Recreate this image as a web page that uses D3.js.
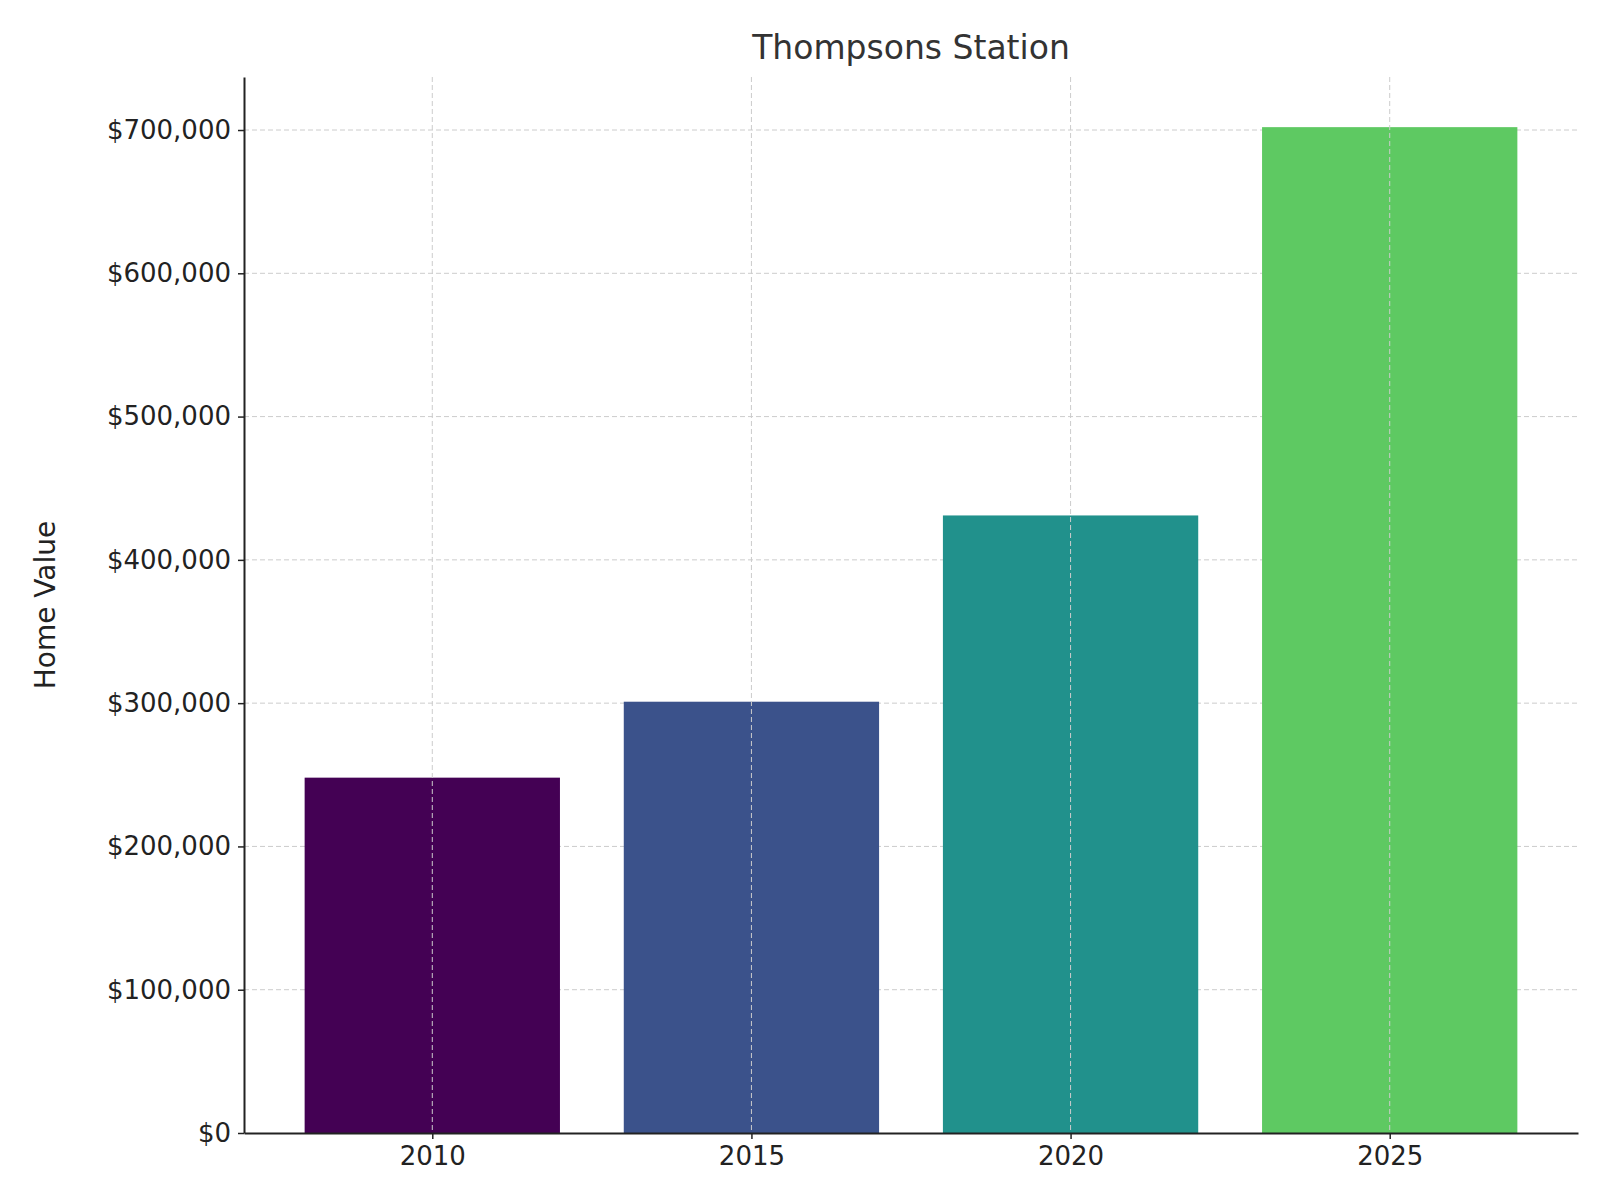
<!DOCTYPE html>
<html><head><meta charset="utf-8">
<script src="https://cdn.jsdelivr.net/npm/d3@7"></script>
<style>body{margin:0;background:#fff}text{font-family:"DejaVu Sans",sans-serif}</style>
</head><body><svg id="chart" width="1600" height="1200"></svg>
<script>
var years = ['2010', '2015', '2020', '2025'];
var values = [248000, 301000, 431000, 702000];
var colors = ['#440154', '#3b528b', '#21918c', '#5ec962'];
var yTicks = [0, 100000, 200000, 300000, 400000, 500000, 600000, 700000];

(function() {
    var svg = d3.select('#chart'),
        left = 244, right = 1578, plotTop = 77, plotBottom = 1133;

    var x = d3.scaleLinear().domain([-0.59, 3.59]).range([left, right]);
    var y = d3.scaleLinear().domain([0, 737000]).range([plotBottom, plotTop]);
    var fmt = function(d) { return '$' + d3.format(',')(d); };

    // grid
    svg.append('g').selectAll('line').data(yTicks.slice(1)).join('line')
        .attr('x1', left).attr('x2', right)
        .attr('y1', y).attr('y2', y)
        .attr('stroke', '#ccc').attr('stroke-dasharray', '5,3');

    svg.append('g').selectAll('rect').data(values).join('rect')
        .attr('x', function(d, i) { return x(i - 0.4); })
        .attr('width', x(0.8) - x(0))
        .attr('y', y)
        .attr('height', function(d) { return plotBottom - y(d); })
        .attr('fill', function(d, i) { return colors[i]; });

    svg.append('g').selectAll('line').data(years).join('line')
        .attr('x1', function(d, i) { return x(i); })
        .attr('x2', function(d, i) { return x(i); })
        .attr('y1', plotTop).attr('y2', plotBottom)
        .attr('stroke', '#ccc').attr('stroke-dasharray', '5,3');

    var yAxis = svg.append('g').attr('transform', 'translate(' + left + ',0)')
        .call(d3.axisLeft(y).tickValues(yTicks).tickFormat(fmt).tickSize(6).tickSizeOuter(0));
    yAxis.selectAll('text').attr('font-size', 26).attr('fill', '#222').attr('dx', -4);

    var xAxis = svg.append('g').attr('transform', 'translate(0,' + plotBottom + ')')
        .call(d3.axisBottom(x).tickValues([0, 1, 2, 3])
            .tickFormat(function(d) { return years[d]; }).tickSize(6).tickSizeOuter(0));
    xAxis.selectAll('text').attr('font-size', 26).attr('fill', '#222').attr('dy', '0.9em');

    svg.selectAll('.domain').attr('stroke', '#222').attr('stroke-width', 2);
    svg.selectAll('.tick line').attr('stroke', '#222').attr('stroke-width', 1.5);

    svg.append('text').attr('x', (left + right) / 2).attr('y', 59).attr('text-anchor', 'middle')
        .attr('font-size', 33).attr('fill', '#333').text('Thompsons Station');

    svg.append('text').attr('transform', 'translate(55,605) rotate(-90)')
        .attr('text-anchor', 'middle').attr('font-size', 28).attr('fill', '#222').text('Home Value');
})();
</script></body></html>
